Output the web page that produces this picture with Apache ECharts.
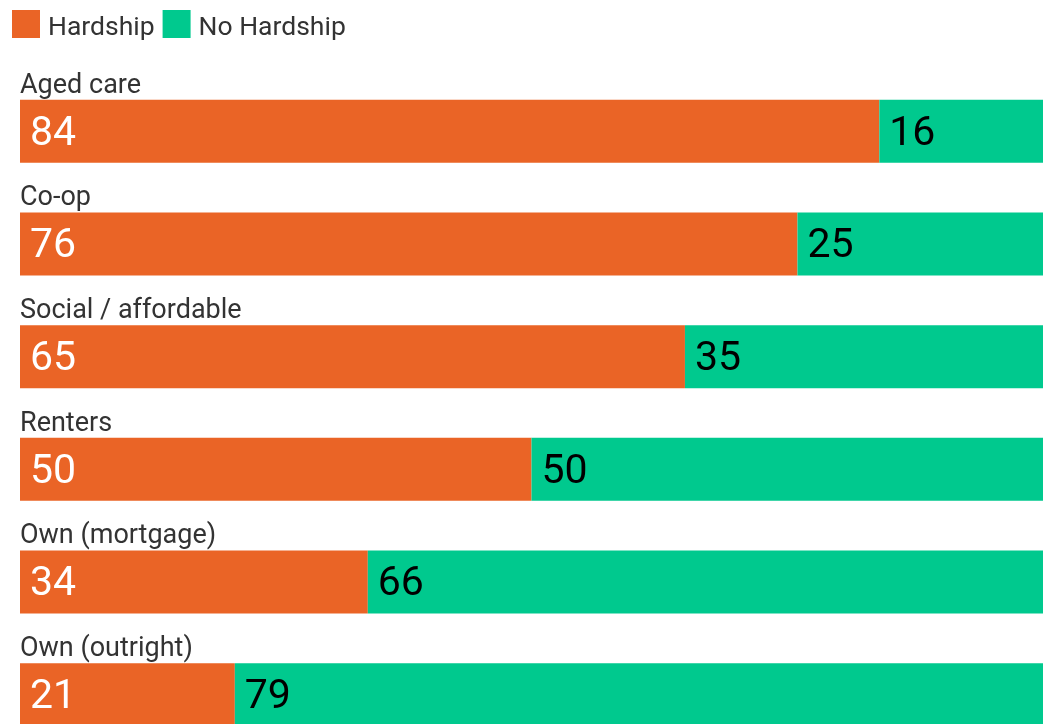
<!DOCTYPE html>
<html>
<head>
<meta charset="utf-8">
<style>
  html, body { margin: 0; padding: 0; background: #fff; }
  #chart { width: 1048px; height: 724px; }
</style>
<script src="https://cdn.jsdelivr.net/npm/echarts@6/dist/echarts.min.js"></script>
</head>
<body>
<div id="chart"></div>
<script>
// Share of households reporting hardship, by housing type (%)
const categories = ['Aged care', 'Co-op', 'Social / affordable', 'Renters', 'Own (mortgage)', 'Own (outright)'];
const hardship = [84, 76, 65, 50, 34, 21];
const noHardship = [16, 25, 35, 50, 66, 79];

const FONT = 'Roboto';
const ORANGE = '#EA6426';
const GREEN = '#00C98E';

const chart = echarts.init(document.getElementById('chart'), null, { renderer: 'canvas' });

const valueLabel = (color) => ({
  show: true,
  position: 'insideLeft',
  distance: 10,
  offset: [0, 3],
  color: color,
  fontFamily: FONT,
  fontSize: 41,
  fontWeight: 400
});

chart.setOption({
  animation: false,
  legend: {
    left: 12,
    top: 10,
    padding: 0,
    itemWidth: 28,
    itemHeight: 28,
    itemGap: 8,
    icon: 'rect',
    formatter: '{t|{name}}',
    textStyle: {
      fontFamily: FONT,
      fontSize: 26.5,
      color: '#333',
      rich: {
        t: { fontFamily: FONT, fontSize: 26.5, color: '#333', padding: [8, 0, 0, 3] }
      }
    },
    data: ['Hardship', 'No Hardship']
  },
  grid: {
    left: 20,
    right: 5,
    top: 75,
    height: 676,
    outerBoundsMode: 'none',
    containLabel: false
  },
  xAxis: {
    type: 'value',
    min: 0,
    max: 100,
    show: false
  },
  yAxis: {
    type: 'category',
    inverse: true,
    data: categories,
    axisLine: { show: false },
    axisTick: { show: false },
    splitLine: { show: false },
    z: 10,
    axisLabel: {
      inside: true,
      margin: 0,
      align: 'left',
      verticalAlign: 'middle',
      formatter: (v) => '{c|' + v + '}',
      rich: {
        c: {
          fontFamily: FONT,
          fontSize: 27,
          color: '#333',
          padding: [0, 0, 91, 0]
        }
      }
    }
  },
  series: [
    {
      name: 'Hardship',
      type: 'bar',
      stack: 'total',
      barWidth: 63,
      itemStyle: { color: ORANGE },
      label: valueLabel('#fff'),
      data: hardship
    },
    {
      name: 'No Hardship',
      type: 'bar',
      stack: 'total',
      barWidth: 63,
      itemStyle: { color: GREEN },
      label: valueLabel('#000'),
      data: noHardship
    }
  ]
});
</script>
</body>
</html>
